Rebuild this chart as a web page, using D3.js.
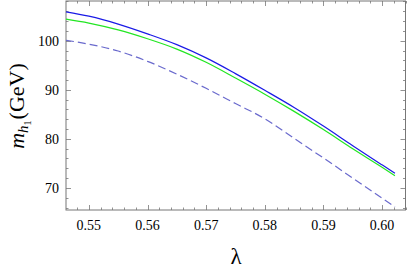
<!DOCTYPE html>
<html><head><meta charset="utf-8">
<script src="https://cdn.jsdelivr.net/npm/d3@7"></script>
</head><body style="margin:0">
<svg id="c" width="407" height="272" style="font-family:'Liberation Serif','Times New Roman'"></svg>
<script>
const lambda = [0.5461, 0.550, 0.555, 0.560, 0.565, 0.570, 0.575, 0.580, 0.585, 0.590, 0.595, 0.600, 0.6022];
const blueVals = [105.9, 105.0, 103.4, 101.4, 99.2, 96.5, 93.3, 89.9, 86.4, 82.6, 78.6, 74.7, 73.0];
const greenVals = [104.4, 103.6, 102.2, 100.4, 98.3, 95.6, 92.4, 89.1, 85.6, 81.9, 78.0, 74.2, 72.5];
const dashedVals = [100.1, 99.3, 97.9, 95.8, 93.2, 90.3, 87.2, 84.1, 80.1, 76.1, 72.0, 67.9, 66.1];
const xTicks = [0.55, 0.56, 0.57, 0.58, 0.59, 0.60];
const yTicks = [70, 80, 90, 100];

const FONT = '"Times New Roman"';
const svg = d3.select("#c");
const L = 66, R = 405.5, T = 1, B = 210;
const x = d3.scaleLinear().domain([0.5461, 0.6040]).range([L, R]);
const y = d3.scaleLinear().domain([65.5, 108.1]).range([B, T]);
const frameColor = "#777";

const xMinor = d3.range(0.546, 0.6041, 0.002).filter(v => v >= 0.5461);
const yMinor = d3.range(66, 108.1, 2);

const g = svg.append("g").attr("stroke", frameColor).attr("stroke-width", 0.8);
xMinor.forEach(v => {
  const major = xTicks.some(t => Math.abs(t - v) < 1e-6);
  const len = major ? 5 : 2.5;
  const px = Math.round(x(v)) + 0.5;
  g.append("line").attr("x1", px).attr("x2", px).attr("y1", B).attr("y2", B - len);
  g.append("line").attr("x1", px).attr("x2", px).attr("y1", T).attr("y2", T + len);
});
yMinor.forEach(v => {
  const major = yTicks.includes(Math.round(v));
  const len = major ? 5 : 2.5;
  const py = Math.round(y(v)) + 0.5;
  g.append("line").attr("x1", L).attr("x2", L + len).attr("y1", py).attr("y2", py);
  g.append("line").attr("x1", R).attr("x2", R - len).attr("y1", py).attr("y2", py);
});

svg.append("rect").attr("x", L).attr("y", T).attr("width", R - L).attr("height", B - T)
  .attr("fill", "none").attr("stroke", frameColor).attr("stroke-width", 1);

// tick labels placed with the scales
svg.selectAll("text.xt").data(xTicks).join("text").attr("class", "xt")
  .attr("x", d => x(d)).attr("y", B + 20).attr("text-anchor", "middle")
  .style("font-family", FONT).style("font-size", "14px").text(d => d3.format(".2f")(d));
svg.selectAll("text.yt").data(yTicks).join("text").attr("class", "yt")
  .attr("x", L - 7).attr("y", d => y(d) + 5).attr("text-anchor", "end")
  .style("font-family", FONT).style("font-size", "14px").text(d => d3.format("d")(d));

const line = vals => d3.line().x((d, i) => x(lambda[i])).y(d => y(d)).curve(d3.curveMonotoneX)(vals);
svg.append("path").attr("d", line(dashedVals)).attr("fill", "none")
  .attr("stroke", "#6a6acd").attr("stroke-width", 1.2).attr("stroke-dasharray", "8,4");
svg.append("path").attr("d", line(greenVals)).attr("fill", "none")
  .attr("stroke", "#22e622").attr("stroke-width", 1.2);
svg.append("path").attr("d", line(blueVals)).attr("fill", "none")
  .attr("stroke", "#1a1ae6").attr("stroke-width", 1.2);

const yl = svg.append("text").attr("transform", "translate(24,106) rotate(-90)")
  .attr("text-anchor", "middle").style("font-family", FONT).style("font-size", "22px");
yl.append("tspan").style("font-style", "italic").text("m");
yl.append("tspan").style("font-style", "italic").style("font-size", "15px").attr("dy", 4).text("h");
yl.append("tspan").style("font-size", "10px").attr("dy", 3).text("1");
yl.append("tspan").attr("dy", -7).attr("dx", 1).text("(GeV)");

svg.append("text").attr("x", 236).attr("y", 264).attr("text-anchor", "middle")
  .style("font-family", FONT).style("font-size", "23px").text("λ");
</script>
</body></html>
